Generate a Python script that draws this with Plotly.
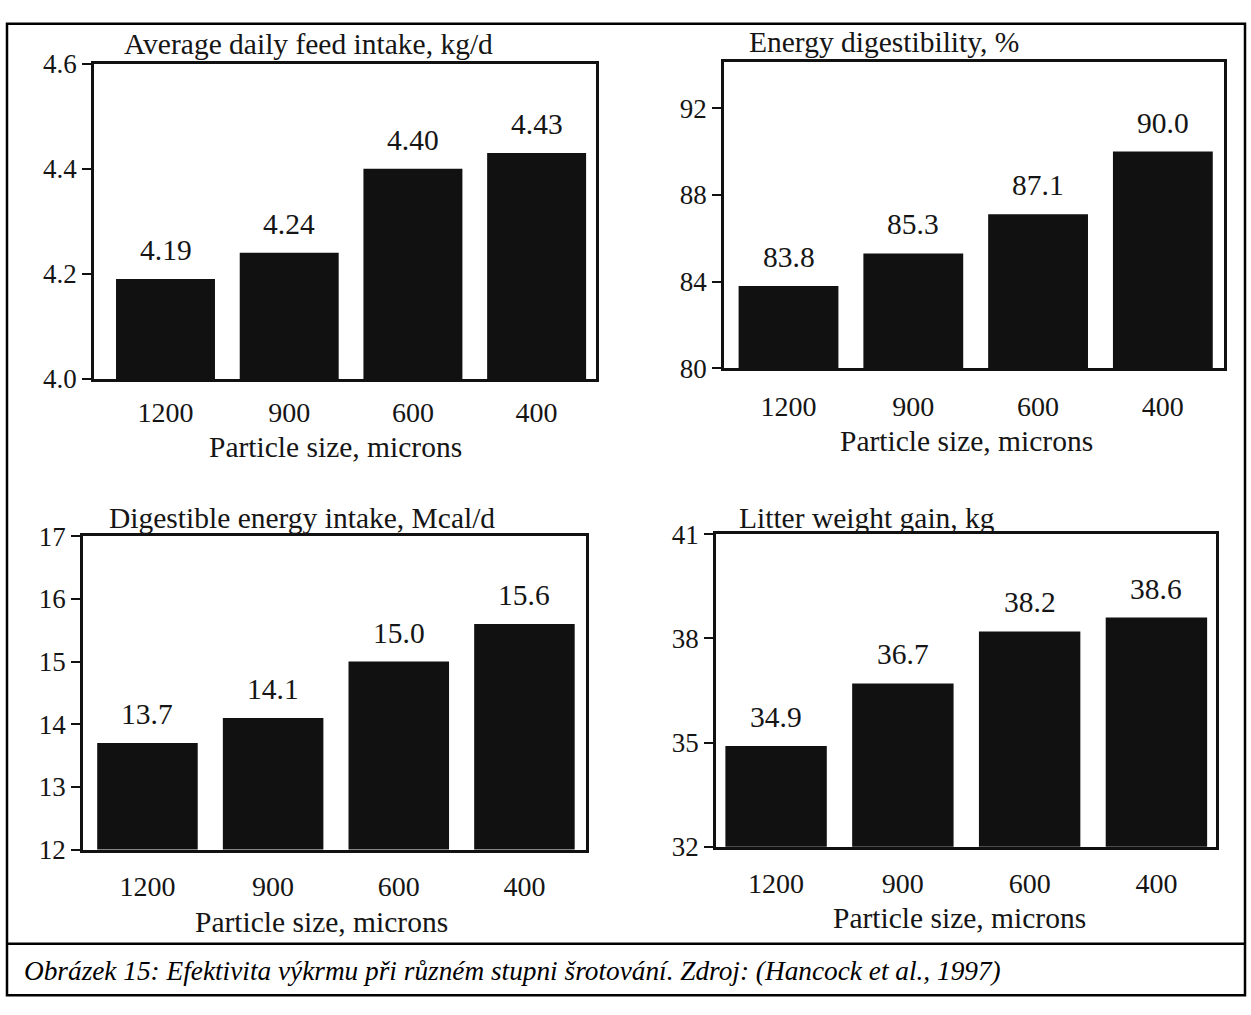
import plotly.graph_objects as go

# ---------------- data ----------------
categories = ["1200", "900", "600", "400"]

feed_intake = [4.19, 4.24, 4.40, 4.43]
energy_digestibility = [83.8, 85.3, 87.1, 90.0]
de_intake = [13.7, 14.1, 15.0, 15.6]
litter_gain = [34.9, 36.7, 38.2, 38.6]

feed_ticks = [4.0, 4.2, 4.4, 4.6]
feed_ticktext = ["4.0", "4.2", "4.4", "4.6"]
dig_ticks = [80, 84, 88, 92]
de_ticks = [12, 13, 14, 15, 16, 17]
litter_ticks = [32, 35, 38, 41]

titles = [
    "Average daily feed intake, kg/d",
    "Energy digestibility, %",
    "Digestible energy intake, Mcal/d",
    "Litter weight gain, kg",
]
x_title = "Particle size, microns"
caption = "Obrázek 15: Efektivita výkrmu při různém stupni šrotování. Zdroj: (Hancock et al., 1997)"

# ---------------- layout helpers ----------------
W, H = 1251, 1015
FONT = "Liberation Serif, Times New Roman, serif"
INK = "#151515"


def px(x):
    return x / W


def py(y):
    return 1 - y / H


panels = [
    dict(vals=feed_intake, fmt="{:.2f}", ticks=feed_ticks, ticktext=feed_ticktext,
         yr=[4.0, 4.6], xd=(94, 596), yd=(50, 375), xr=[-0.578, 3.48],
         tpos=(122, 30), xtpos=(335, 445), xstand=7),
    dict(vals=energy_digestibility, fmt="{:.1f}", ticks=dig_ticks, ticktext=[str(v) for v in dig_ticks],
         yr=[80, 94.15], xd=(724, 1224), yd=(48, 364), xr=[-0.517, 3.49],
         tpos=(747, 28), xtpos=(966, 439), xstand=11),
    dict(vals=de_intake, fmt="{:.1f}", ticks=de_ticks, ticktext=[str(v) for v in de_ticks],
         yr=[12, 17], xd=(83, 586), yd=(537, 860), xr=[-0.513, 3.49],
         tpos=(107, 518), xtpos=(321, 935), xstand=10),
    dict(vals=litter_gain, fmt="{:.1f}", ticks=litter_ticks, ticktext=[str(v) for v in litter_ticks],
         yr=[32, 41], xd=(716, 1216), yd=(535, 857), xr=[-0.474, 3.47],
         tpos=(737, 518), xtpos=(959, 931), xstand=10),
]

fig = go.Figure()
annotations = []

for i, p in enumerate(panels, start=1):
    xa = "x" if i == 1 else f"x{i}"
    ya = "y" if i == 1 else f"y{i}"
    fig.add_trace(go.Bar(
        x=categories, y=p["vals"], xaxis=xa, yaxis=ya,
        marker=dict(color="#111111", line=dict(width=0)),
        width=0.8, showlegend=False, hoverinfo="skip",
    ))
    xkey = "xaxis" if i == 1 else f"xaxis{i}"
    ykey = "yaxis" if i == 1 else f"yaxis{i}"
    fig.update_layout(**{
        xkey: dict(
            domain=[px(p["xd"][0]), px(p["xd"][1])],
            anchor=ya, type="category", range=p["xr"],
            showline=True, mirror=True, linecolor="#111", linewidth=2.5,
            ticks="", showgrid=False, zeroline=False,
            ticklabelstandoff=p["xstand"],
            tickfont=dict(family=FONT, size=28, color=INK),
            fixedrange=True,
        ),
        ykey: dict(
            domain=[py(p["yd"][1]), py(p["yd"][0])],
            anchor=xa, range=p["yr"],
            tickvals=p["ticks"], ticktext=p["ticktext"],
            showline=True, mirror=True, linecolor="#111", linewidth=2.5,
            ticks="outside", ticklen=9, tickwidth=2, tickcolor="#111",
            showgrid=False, zeroline=False,
            tickfont=dict(family=FONT, size=27, color=INK),
            fixedrange=True,
        ),
    })
    for j, v in enumerate(p["vals"]):
        annotations.append(dict(
            x=j, y=v, xref=xa, yref=ya, text=p["fmt"].format(v),
            showarrow=False, yanchor="middle", yshift=29,
            font=dict(family=FONT, size=29.5, color=INK),
        ))
    # panel title
    annotations.append(dict(
        x=px(p["tpos"][0]), y=py(p["tpos"][1]), xref="paper", yref="paper",
        text=titles[i - 1], showarrow=False, xanchor="left", yanchor="middle",
        font=dict(family=FONT, size=29.5, color=INK),
    ))
    # x-axis title
    annotations.append(dict(
        x=px(p["xtpos"][0]), y=py(p["xtpos"][1]), xref="paper", yref="paper",
        text=x_title, showarrow=False, xanchor="center", yanchor="middle",
        font=dict(family=FONT, size=29.5, color=INK),
    ))

annotations.append(dict(
    x=px(22), y=py(985), xref="paper", yref="paper", text=f"<i>{caption}</i>",
    showarrow=False, xanchor="left", yanchor="middle",
    font=dict(family=FONT, size=27.3, color="#000"),
))

shapes = [
    dict(type="rect", xref="paper", yref="paper",
         x0=px(7), x1=px(1245), y0=py(1010), y1=py(9),
         line=dict(color="#000", width=2.5)),
    dict(type="line", xref="paper", yref="paper",
         x0=px(7), x1=px(1245), y0=py(957), y1=py(957),
         line=dict(color="#000", width=2.5)),
]

fig.update_layout(
    width=W, height=H, autosize=False,
    margin=dict(l=0, r=0, t=0, b=0),
    paper_bgcolor="white", plot_bgcolor="white",
    annotations=annotations, shapes=shapes,
    bargap=0.2,
)

fig.write_html("out.html")
